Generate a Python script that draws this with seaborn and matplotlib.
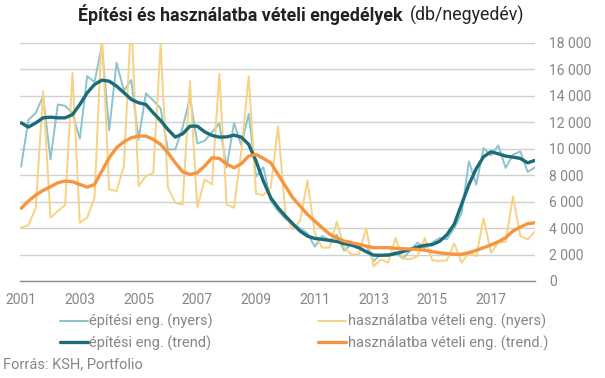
import numpy as np
import pandas as pd
import matplotlib
matplotlib.use("Agg")
import matplotlib.pyplot as plt
import seaborn as sns
from matplotlib.ticker import FuncFormatter

# quarterly data, 2001 Q1 - 2018 Q3
epites_nyers = [8650, 12200, 12700, 14000, 9200, 13350, 13250, 12700, 10750, 15500,
                15050, 17800, 11400, 16500, 14400, 15200, 10700, 14200, 13650, 13050,
                9950, 9950, 11600, 13900, 10400, 10600, 11250, 11900, 8600, 11950,
                10250, 12650, 7900, 8600, 6050, 5300, 4700, 4300, 4000, 3600,
                2600, 3400, 3100, 3500, 2300, 2800, 2700, 2700, 1500, 2000,
                2000, 2200, 1700, 2300, 2900, 2500, 2900, 3250, 3150, 4000,
                5100, 9050, 7300, 10050, 9500, 10250, 8550, 9550, 9800, 8250,
                8600]
hasznalat_nyers = [4030, 4230, 5540, 14360, 4790, 5290, 5740, 15740, 4410, 4790,
                   6300, 19000, 6930, 6800, 8690, 20000, 7180, 7930, 8180, 17880,
                   7050, 5920, 5790, 15110, 5540, 7680, 7300, 15670, 5790, 5540,
                   9820, 15490, 6600, 6500, 7050, 11710, 5040, 3900, 4530, 7600,
                   3650, 2520, 2520, 4500, 2520, 2020, 2020, 4000, 1100, 1640,
                   1390, 3250, 1710, 1640, 1890, 3250, 1560, 1510, 1560, 2850,
                   1390, 2140, 1890, 4750, 2140, 2900, 2970, 6400, 3400, 3150,
                   3730]
epites_trend = [11960, 11640, 11960, 12340, 12390, 12340, 12340, 12590, 13350, 14230,
                14860, 15190, 15110, 14740, 14250, 13730, 13480, 13350, 12720, 12140,
                11460, 10880, 11130, 11710, 11710, 11280, 11010, 10880, 10900, 11030,
                10880, 10330, 9070, 7560, 6300, 5540, 4910, 4330, 3780, 3400,
                3220, 3150, 3070, 2990, 2820, 2720, 2520, 2220, 1960, 1940,
                1960, 2070, 2220, 2390, 2570, 2700, 2750, 3000, 3500, 4300,
                5800, 7300, 8500, 9400, 9770, 9620, 9450, 9370, 9270, 8940,
                9120]
hasznalat_trend = [5490, 6050, 6500, 6850, 7130, 7430, 7560, 7510, 7300, 7100,
                   7300, 8310, 9320, 10080, 10530, 10830, 10960, 10960, 10710, 10330,
                   9700, 8940, 8260, 8060, 8190, 8690, 9320, 9270, 8850, 8560,
                   8870, 9450, 9570, 9270, 8940, 8060, 7180, 6300, 5670, 5040,
                   4530, 4030, 3550, 3250, 3020, 2900, 2770, 2640, 2520, 2520,
                   2520, 2470, 2440, 2420, 2390, 2320, 2220, 2130, 2070, 2020,
                   2020, 2140, 2320, 2520, 2720, 2970, 3270, 3780, 4080, 4330,
                   4410]
year_labels = ["2001", "2003", "2005", "2007", "2009", "2011", "2013", "2015", "2017"]
y_ticks = [0, 2000, 4000, 6000, 8000, 10000, 12000, 14000, 16000, 18000]

series = [
    ("építési eng. (nyers)", epites_nyers, "#8dc3ce", 1.4),
    ("használatba vételi eng. (nyers)", hasznalat_nyers, "#f8d283", 1.4),
    ("építési eng. (trend)", epites_trend, "#1b6c78", 2.4),
    ("használatba vételi eng. (trend.)", hasznalat_trend, "#f6953f", 2.4),
]

sns.set_style("white")
plt.rcParams["font.family"] = ["Roboto", "DejaVu Sans"]
grey = "#8a8580"

fig = plt.figure(figsize=(6.05, 3.78), dpi=100)
ax = fig.add_axes([20 / 605, 1 - 281 / 378, 515 / 605, 238 / 378])

quarters = np.arange(len(epites_nyers))
handles = {}
for name, vals, color, lw in series:
    df = pd.DataFrame({"q": quarters, "v": vals})
    sns.lineplot(data=df, x="q", y="v", ax=ax, color=color, linewidth=lw, label=name)
    handles[name] = ax.get_lines()[-1]
ax.get_legend().remove()

ax.set_xlim(-0.15, len(quarters) - 1)
ax.set_ylim(0, 18000)
ax.set_xticks(np.arange(0, 8 * len(year_labels), 8))
ax.set_xticklabels(year_labels)
ax.set_yticks(y_ticks)
ax.yaxis.set_major_formatter(FuncFormatter(lambda v, p: f"{v:,.0f}".replace(",", " ")))
ax.yaxis.tick_right()
ax.tick_params(axis="y", length=0, pad=10, labelsize=10, labelcolor=grey)
ax.tick_params(axis="x", length=0, pad=9, labelsize=10, labelcolor=grey)
for lbl in ax.get_yticklabels():
    lbl.set_horizontalalignment("left")
ax.set_xlabel("")
ax.set_ylabel("")
ax.grid(axis="y", color="#d0d0d0", linewidth=1)
ax.grid(axis="x", visible=False)
ax.set_axisbelow(True)
for s in ["top", "left", "right"]:
    ax.spines[s].set_visible(False)
ax.spines["bottom"].set_color("#8c8c8c")
ax.spines["bottom"].set_linewidth(1)

order = ["építési eng. (nyers)", "építési eng. (trend)",
         "használatba vételi eng. (nyers)", "használatba vételi eng. (trend.)"]
fig.legend([handles[n] for n in order], order, ncol=2, loc="upper left",
           bbox_to_anchor=(60 / 605, 1 - 314 / 378), frameon=False, fontsize=10.5,
           handlelength=1.9, handletextpad=0.12, columnspacing=7.2,
           labelspacing=0.42, borderpad=0, borderaxespad=0, labelcolor=grey)

fig.text(403 / 605, 1 - 15 / 378, "Építési és használatba vételi engedélyek",
         ha="right", va="center", fontsize=12.8, fontweight="bold", color="#222222")
fig.text(410 / 605, 1 - 15 / 378, "(db/negyedév)", ha="left", va="center",
         fontsize=12.8, color="#222222")
fig.text(3 / 605, 1 - 364 / 378, "Forrás: KSH, Portfolio", ha="left", va="center",
         fontsize=10.5, color=grey)

fig.savefig("out.png", dpi=100)
